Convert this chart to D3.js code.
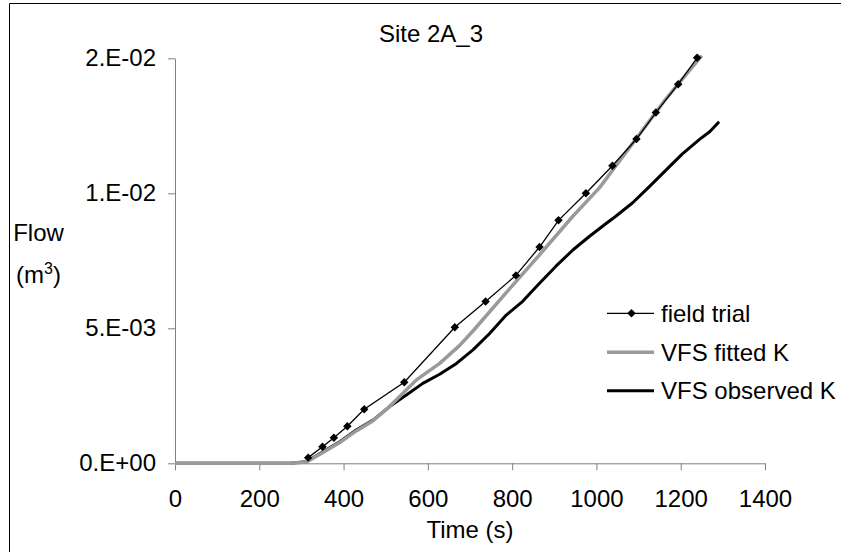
<!DOCTYPE html>
<html>
<head>
<meta charset="utf-8">
<script src="https://cdn.jsdelivr.net/npm/d3@7"></script>
<style>
  body { margin: 0; background: #fff; }
  svg { display: block; font-family: "Liberation Sans", Arial, sans-serif; }
</style>
</head>
<body>
<div id="wrapper"></div>
<script>
// values
const fieldTime = [316, 350, 377, 409, 449, 544, 664, 737, 809, 865, 910, 975, 1038, 1095, 1141, 1194, 1239];
const fieldFlow = [0.00021, 0.00061, 0.00095, 0.00137, 0.0020, 0.0030, 0.00504, 0.00599, 0.00696, 0.00801, 0.0090, 0.0100, 0.01102, 0.01201, 0.01299, 0.01404, 0.01502];

const fittedTime = [0, 272, 312, 351, 391, 430, 470, 509, 533, 573, 628, 675, 707, 786, 865, 944, 1007, 1086, 1165, 1250];
const fittedFlow = [0, 0, 0.00005, 0.0004, 0.00077, 0.0012, 0.00158, 0.0021, 0.00247, 0.00309, 0.0037, 0.00436, 0.0049, 0.00632, 0.00772, 0.00915, 0.0102, 0.01185, 0.0135, 0.0151];

const observedTime = [0, 272, 312, 351, 391, 430, 470, 509, 549, 588, 628, 668, 707, 746, 786, 825, 865, 904, 944, 983, 1023, 1046, 1086, 1125, 1165, 1204, 1244, 1270, 1291];
const observedFlow = [0, 0, 0.00006, 0.00043, 0.0008, 0.00123, 0.0016, 0.0021, 0.00253, 0.00296, 0.0033, 0.0037, 0.0042, 0.0048, 0.00549, 0.0060, 0.00667, 0.0073, 0.0079, 0.0084, 0.00888, 0.00915, 0.00965, 0.01024, 0.01086, 0.01146, 0.01199, 0.0123, 0.01265];

const xTicks = [0, 200, 400, 600, 800, 1000, 1200, 1400];
const yTicks = [0, 0.005, 0.01, 0.015];
const yTickLabels = ["0.E+00", "5.E-03", "1.E-02", "2.E-02"];

const seriesNames = ["field trial", "VFS fitted K", "VFS observed K"];

function drawChart() {
    const width = 841;
    const height = 552;
    const margins = { top: 58.3, right: 76, bottom: 88.7, left: 175 };
    const boundedWidth = width - margins.left - margins.right;
    const boundedHeight = height - margins.top - margins.bottom;

    const svg = d3.select('#wrapper')
        .append('svg')
        .attr('width', width)
        .attr('height', height);

    // chart frame (only top and left edges fall inside the window)
    svg.append('path')
        .attr('d', `M9.5,${height}V3.5H${width}`)
        .attr('fill', 'none')
        .attr('stroke', '#000')
        .attr('stroke-width', 1);

    const bounds = svg.append('g')
        .attr('transform', `translate(${margins.left},${margins.top})`);

    const xScale = d3.scaleLinear()
        .domain([0, 1400])
        .range([0, boundedWidth]);

    const yScale = d3.scaleLinear()
        .domain([0, 0.015])
        .range([boundedHeight, 0]);

    const xAxisGenerator = d3.axisBottom(xScale)
        .tickValues(xTicks)
        .tickSize(7)
        .tickSizeOuter(0)
        .tickPadding(20)
        .tickFormat(d3.format('d'));

    const yAxisGenerator = d3.axisLeft(yScale)
        .tickValues(yTicks)
        .tickSize(7)
        .tickSizeOuter(0)
        .tickPadding(12)
        .tickFormat((d, i) => yTickLabels[i]);

    const xAxis = bounds.append('g')
        .attr('transform', `translate(0,${boundedHeight})`)
        .call(xAxisGenerator);

    const yAxis = bounds.append('g')
        .call(yAxisGenerator);

    [xAxis, yAxis].forEach(axis => {
        axis.select('.domain').attr('stroke', '#808080');
        axis.selectAll('.tick line').attr('stroke', '#808080');
        axis.selectAll('.tick text')
            .attr('fill', '#000')
            .style('font-size', '24px');
    });

    const line = d3.line()
        .x(d => xScale(d[0]))
        .y(d => yScale(d[1]));

    const fitted = d3.zip(fittedTime, fittedFlow);
    const observed = d3.zip(observedTime, observedFlow);
    const field = d3.zip(fieldTime, fieldFlow);

    bounds.append('path')
        .attr('d', line(observed))
        .attr('fill', 'none')
        .attr('stroke', '#000')
        .attr('stroke-width', 3)
        .attr('stroke-linejoin', 'round');

    bounds.append('path')
        .attr('d', line(fitted))
        .attr('fill', 'none')
        .attr('stroke', '#9a9a9a')
        .attr('stroke-width', 3.5)
        .attr('stroke-linejoin', 'round');

    bounds.append('path')
        .attr('d', line(field))
        .attr('fill', 'none')
        .attr('stroke', '#000')
        .attr('stroke-width', 1.3);

    const diamond = d3.symbol().type(d3.symbolSquare).size(36);

    bounds.selectAll('.marker')
        .data(field)
        .join('path')
        .attr('class', 'marker')
        .attr('d', diamond)
        .attr('transform', d => `translate(${xScale(d[0])},${yScale(d[1])}) rotate(45)`)
        .attr('fill', '#000');

    // title and axis labels
    svg.append('text')
        .attr('x', 431)
        .attr('y', 42)
        .attr('text-anchor', 'middle')
        .style('font-size', '24px')
        .text('Site 2A_3');

    svg.append('text')
        .attr('x', margins.left + boundedWidth / 2)
        .attr('y', 538)
        .attr('text-anchor', 'middle')
        .style('font-size', '24px')
        .text('Time (s)');

    svg.append('text')
        .attr('x', 38.5)
        .attr('y', 241)
        .attr('text-anchor', 'middle')
        .style('font-size', '24px')
        .text('Flow');

    const unit = svg.append('text')
        .attr('x', 38.5)
        .attr('y', 283)
        .attr('text-anchor', 'middle')
        .style('font-size', '24px');
    unit.append('tspan').text('(m');
    unit.append('tspan').attr('dy', -9).style('font-size', '16px').text('3');
    unit.append('tspan').attr('dy', 9).text(')');

    // legend
    const legendY = [313.3, 352.3, 390.7];
    const legend = svg.append('g');
    const items = legend.selectAll('g')
        .data(seriesNames)
        .join('g')
        .attr('transform', (d, i) => `translate(607,${legendY[i]})`);

    items.append('line')
        .attr('x1', 0)
        .attr('x2', 47)
        .attr('stroke', (d, i) => i === 1 ? '#9a9a9a' : '#000')
        .attr('stroke-width', (d, i) => i === 0 ? 1.3 : (i === 1 ? 3.5 : 3));

    items.filter((d, i) => i === 0)
        .append('path')
        .attr('d', diamond)
        .attr('transform', 'translate(24.5,0) rotate(45)')
        .attr('fill', '#000');

    items.append('text')
        .attr('x', 54)
        .attr('y', 8.5)
        .style('font-size', '24px')
        .text(d => d);
}

drawChart();
</script>
</body>
</html>
